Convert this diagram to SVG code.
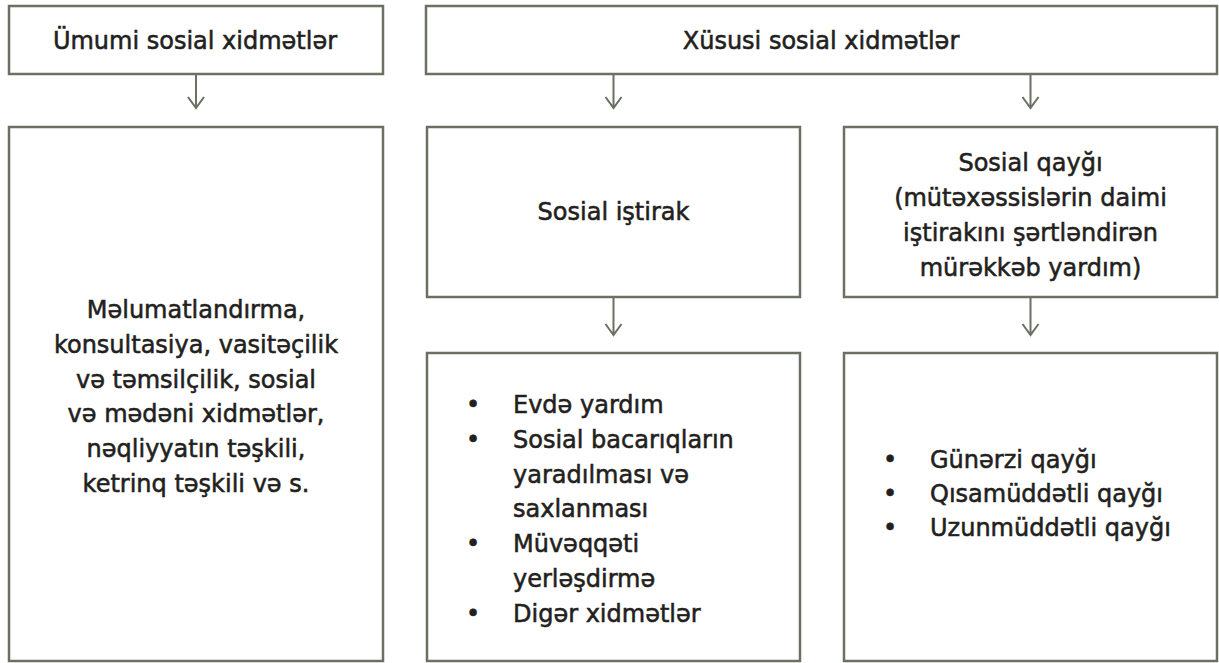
<svg xmlns="http://www.w3.org/2000/svg" width="1219" height="663" viewBox="0 0 1219 663">
<defs>
<style>
.box{fill:#ffffff;stroke:#6b7162;stroke-width:2.5}
.t{font-family:"DejaVu Sans",sans-serif;font-size:24px;fill:#231f20;stroke:#231f20;stroke-width:0.55px;paint-order:stroke}
.c{text-anchor:middle}
.conn{fill:none;stroke:#6b7162;stroke-width:2}
</style>
</defs>
<rect width="1219" height="663" fill="#ffffff"/>
<g id="node-umumi">
<rect class="box" x="9" y="6" width="374" height="68"/>
<text class="t c" x="195" y="49">Ümumi sosial xidmətlər</text>
</g>
<g id="node-xususi">
<rect class="box" x="426" y="6" width="791" height="68"/>
<text class="t c" x="821" y="49">Xüsusi sosial xidmətlər</text>
</g>
<g id="node-umumi-detail">
<rect class="box" x="9" y="127" width="374" height="534"/>
<text class="t c" x="196" y="318">Məlumatlandırma,</text>
<text class="t c" x="196" y="352.8">konsultasiya, vasitəçilik</text>
<text class="t c" x="196" y="387.6">və təmsilçilik, sosial</text>
<text class="t c" x="196" y="422.4">və mədəni xidmətlər,</text>
<text class="t c" x="196" y="457.2">nəqliyyatın təşkili,</text>
<text class="t c" x="196" y="492">ketrinq təşkili və s.</text>
</g>
<g id="node-istirak">
<rect class="box" x="427" y="127" width="373" height="170"/>
<text class="t c" x="613.5" y="220">Sosial iştirak</text>
</g>
<g id="node-qaygi">
<rect class="box" x="844" y="127" width="373" height="170"/>
<text class="t c" x="1030.5" y="171">Sosial qayğı</text>
<text class="t c" x="1030.5" y="206">(mütəxəssislərin daimi</text>
<text class="t c" x="1030.5" y="241">iştirakını şərtləndirən</text>
<text class="t c" x="1030.5" y="276">mürəkkəb yardım)</text>
</g>
<g id="node-istirak-detail">
<rect class="box" x="427" y="353" width="373" height="308"/>
<text class="t c" x="473" y="413">•</text>
<text class="t" x="513" y="413">Evdə yardım</text>
<text class="t c" x="473" y="448">•</text>
<text class="t" x="513" y="448">Sosial bacarıqların</text>
<text class="t" x="513" y="483">yaradılması və</text>
<text class="t" x="513" y="517">saxlanması</text>
<text class="t c" x="473" y="552">•</text>
<text class="t" x="513" y="552">Müvəqqəti</text>
<text class="t" x="513" y="587">yerləşdirmə</text>
<text class="t c" x="473" y="622">•</text>
<text class="t" x="513" y="622">Digər xidmətlər</text>
</g>
<g id="node-qaygi-detail">
<rect class="box" x="844" y="353" width="373" height="308"/>
<text class="t c" x="890" y="468">•</text>
<text class="t" x="930" y="468">Günərzi qayğı</text>
<text class="t c" x="890" y="502">•</text>
<text class="t" x="930" y="502">Qısamüddətli qayğı</text>
<text class="t c" x="890" y="536">•</text>
<text class="t" x="930" y="536">Uzunmüddətli qayğı</text>
</g>
<g id="connectors">
<path class="conn" d="M196 75V108M188 97L196 108L204 97"/>
<path class="conn" d="M613.5 75V108M605.5 97L613.5 108L621.5 97"/>
<path class="conn" d="M1030.5 75V108M1022.5 97L1030.5 108L1038.5 97"/>
<path class="conn" d="M613.5 298V335M605.5 324L613.5 335L621.5 324"/>
<path class="conn" d="M1030.5 298V335M1022.5 324L1030.5 335L1038.5 324"/>
</g>
</svg>
